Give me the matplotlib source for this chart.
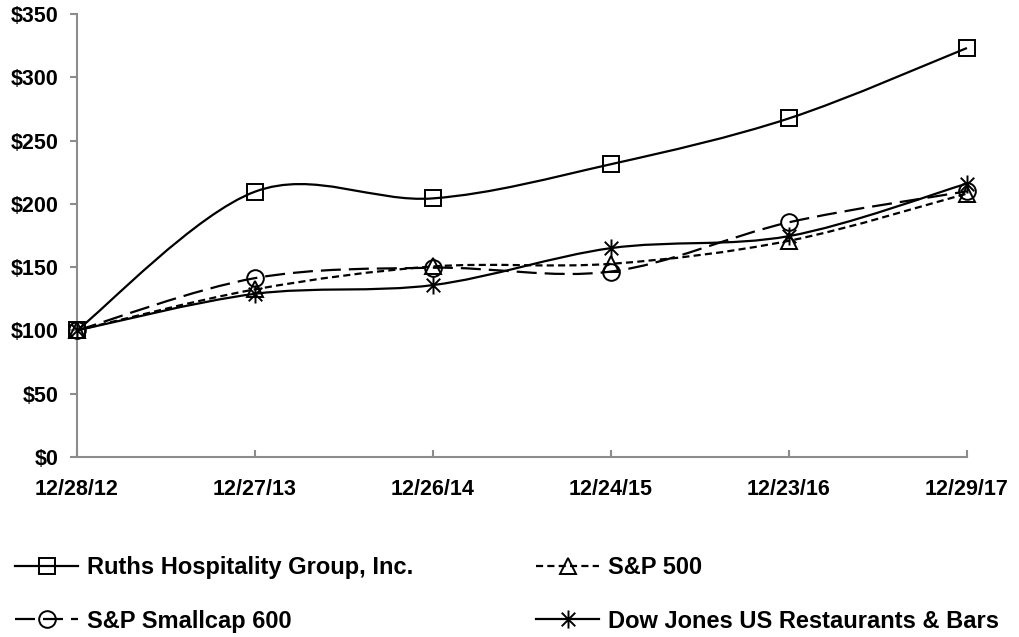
import numpy as np
import matplotlib
matplotlib.use("Agg")
import matplotlib.pyplot as plt
from matplotlib.path import Path
from matplotlib.patches import PathPatch
from matplotlib.lines import Line2D

plt.rcParams['font.family'] = ['Liberation Sans', 'DejaVu Sans']
plt.rcParams['font.weight'] = 'bold'

dates = ['12/28/12', '12/27/13', '12/26/14', '12/24/15', '12/23/16', '12/29/17']
ruths = [100, 209.6, 204.3, 231.3, 267.5, 323.1]
sp500 = [100, 132.4, 150.5, 152.6, 170.8, 208.1]
smallcap = [100, 141.3, 149.5, 146.5, 185.4, 209.9]
dowjones = [100, 128.9, 135.8, 165.0, 174.5, 216.0]

names = ['Ruths Hospitality Group, Inc.', 'S&P 500', 'S&P Smallcap 600',
         'Dow Jones US Restaurants & Bars']


def smooth_path(xs, ys):
    # excel style smoothed line: bezier through every point
    pts = np.column_stack([xs, ys]).astype(float)
    n = len(pts)
    verts = [pts[0]]
    codes = [Path.MOVETO]
    for i in range(n - 1):
        p0 = pts[i - 1] if i > 0 else pts[i]
        p1 = pts[i]
        p2 = pts[i + 1]
        p3 = pts[i + 2] if i + 2 < n else pts[i + 1]
        c1 = p1 + (p2 - p0) / 6.0
        c2 = p2 - (p3 - p1) / 6.0
        verts += [c1, c2, p2]
        codes += [Path.CURVE4] * 3
    return Path(verts, codes)


# asterisk: vertical bar plus an X
star = Path([(0, -1), (0, 1), (-0.75, -0.75), (0.75, 0.75),
             (-0.75, 0.75), (0.75, -0.75)],
            [Path.MOVETO, Path.LINETO] * 3)

fig = plt.figure(figsize=(10.2, 6.37), dpi=100)
ax = fig.add_axes([0.0755, 0.2826, 0.8725, 0.6955])

x = np.arange(len(dates))
lw = 1.6
styles = [
    (ruths, '-', 's', 12),
    (sp500, (0, (3.2, 1.9)), '^', 11),
    (smallcap, (0, (9, 3.6)), 'o', 12),
    (dowjones, '-', star, 13),
]

handles = []
for (vals, ls, mk, ms), name in zip(styles, names):
    ax.add_patch(PathPatch(smooth_path(x, vals), fill=False, lw=lw,
                           linestyle=ls, edgecolor='black', zorder=2,
                           clip_on=False))
    ax.plot(x, vals, linestyle='none', marker=mk, markersize=ms,
            markerfacecolor='none', markeredgecolor='black',
            markeredgewidth=1.4, zorder=3, clip_on=False)
    handles.append(Line2D([], [], color='black', lw=lw, linestyle=ls,
                          marker=mk, markersize=ms, markerfacecolor='none',
                          markeredgecolor='black', markeredgewidth=1.4,
                          label=name))

ax.set_xlim(0, 5)
ax.set_ylim(0, 350)
ax.set_yticks(np.arange(0, 351, 50))
ax.set_yticklabels(['$%d' % v for v in range(0, 351, 50)])
ax.set_xticks(x)
ax.set_xticklabels(dates)

for s in ['top', 'right']:
    ax.spines[s].set_visible(False)
for s in ['left', 'bottom']:
    ax.spines[s].set_color('#8c8c8c')
    ax.spines[s].set_linewidth(1.5)
ax.tick_params(axis='y', direction='out', length=5, width=1.5,
               color='#8c8c8c', pad=8, labelsize=15.5)
ax.tick_params(axis='x', direction='in', length=5, width=1.5,
               color='#8c8c8c', pad=16, labelsize=15.5)
for lab in ax.get_xticklabels() + ax.get_yticklabels():
    lab.set_fontweight('bold')

order = [handles[0], handles[2], handles[1], handles[3]]
fig.legend(handles=order, loc='center left', bbox_to_anchor=(0.0147, 0.067),
           ncol=2, frameon=False, prop={'size': 17, 'weight': 'bold'},
           handlelength=2.67, handletextpad=0.38, columnspacing=5.2,
           labelspacing=1.3, borderpad=0, borderaxespad=0)

fig.savefig('out.png', dpi=100)
